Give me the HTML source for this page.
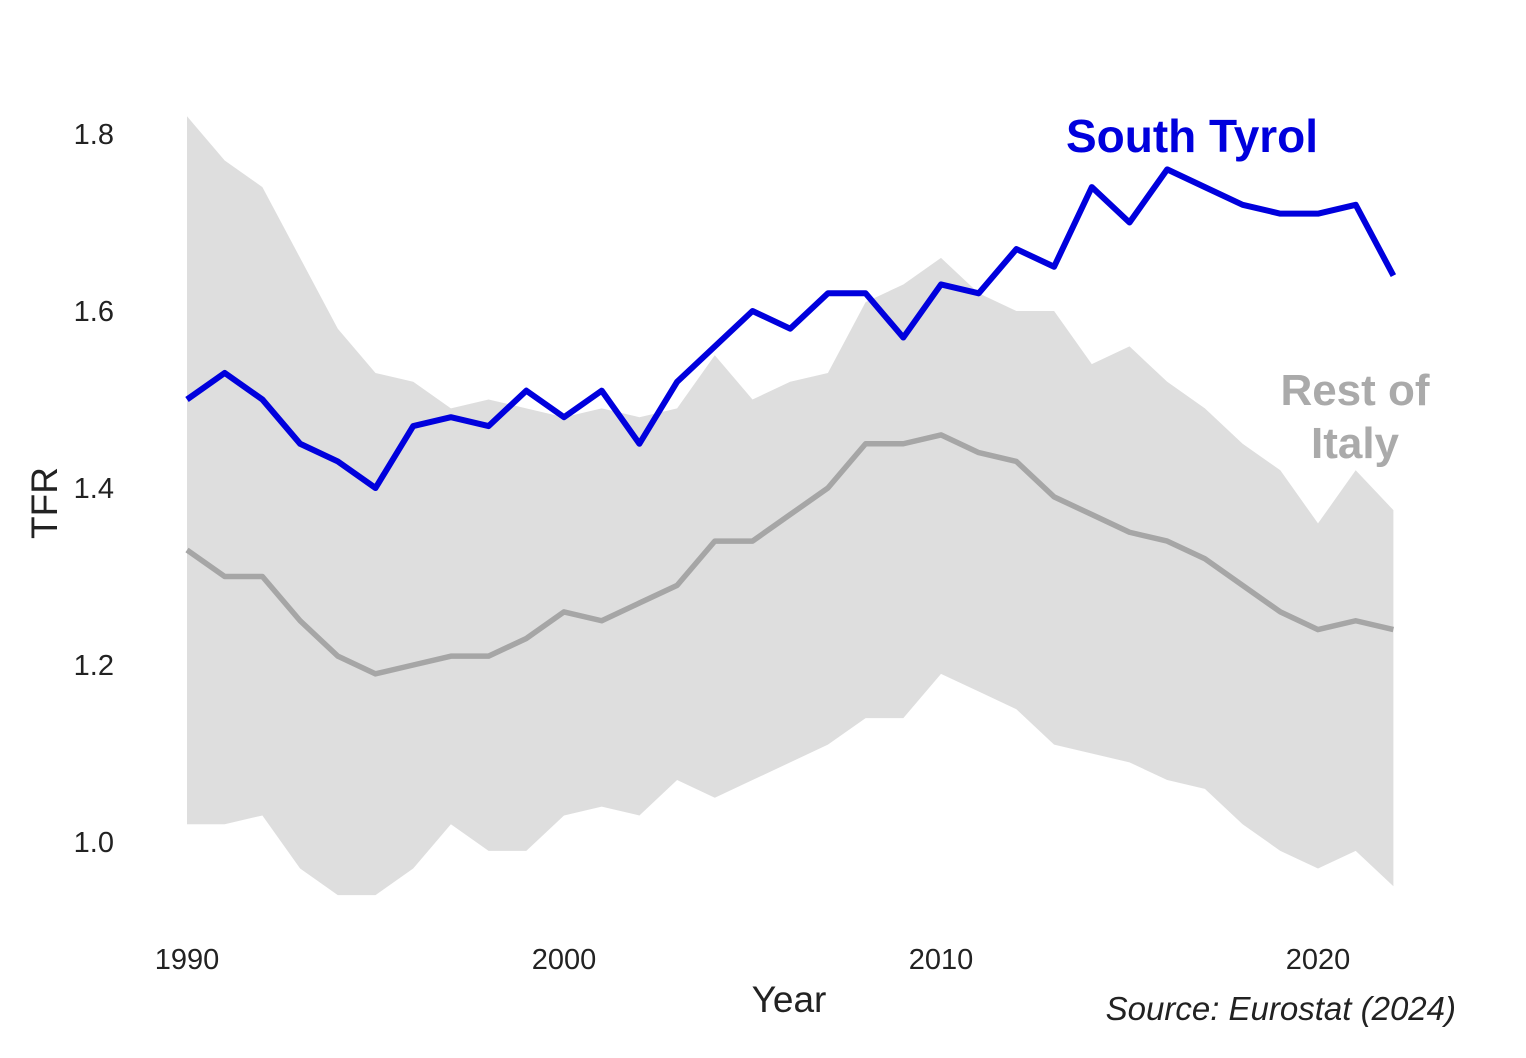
<!DOCTYPE html>
<html><head><meta charset="utf-8"><style>
html,body{margin:0;padding:0;background:#fff;}
svg{display:block;font-family:"Liberation Sans",Arial,sans-serif;}
</style></head><body>
<svg id="chart" width="1526" height="1058" viewBox="0 0 1526 1058">
<g id="band"></g>
<g id="lines"></g>
<g id="yticks"></g>
<g id="xticks"></g>
<text transform="translate(57,503) rotate(-90)" text-anchor="middle" font-size="37" fill="#222">TFR</text>
<text x="789" y="1012" text-anchor="middle" font-size="37" fill="#222">Year</text>
<text x="1456" y="1020" text-anchor="end" font-size="33" font-style="italic" fill="#222">Source: Eurostat (2024)</text>
<text x="1192" y="152" text-anchor="middle" font-size="46" font-weight="bold" fill="#0000dd">South Tyrol</text>
<text x="1355" y="405" text-anchor="middle" font-size="44" font-weight="bold" fill="#aaaaaa">Rest of</text>
<text x="1355" y="458" text-anchor="middle" font-size="44" font-weight="bold" fill="#aaaaaa">Italy</text>
</svg>
<script>
const years = [];
for (let y = 1990; y <= 2022; y++) years.push(y);
const southTyrol = [1.50,1.53,1.50,1.45,1.43,1.40,1.47,1.48,1.47,1.51,1.48,1.51,1.45,1.52,1.56,1.60,1.58,1.62,1.62,1.57,1.63,1.62,1.67,1.65,1.74,1.70,1.76,1.74,1.72,1.71,1.71,1.72,1.64];
const italyMean = [1.33,1.30,1.30,1.25,1.21,1.19,1.20,1.21,1.21,1.23,1.26,1.25,1.27,1.29,1.34,1.34,1.37,1.40,1.45,1.45,1.46,1.44,1.43,1.39,1.37,1.35,1.34,1.32,1.29,1.26,1.24,1.25,1.24];
const italyUpper = [1.82,1.77,1.74,1.66,1.58,1.53,1.52,1.49,1.50,1.49,1.48,1.49,1.48,1.49,1.55,1.50,1.52,1.53,1.61,1.63,1.66,1.62,1.60,1.60,1.54,1.56,1.52,1.49,1.45,1.42,1.36,1.42,1.375];
const italyLower = [1.02,1.02,1.03,0.97,0.94,0.94,0.97,1.02,0.99,0.99,1.03,1.04,1.03,1.07,1.05,1.07,1.09,1.11,1.14,1.14,1.19,1.17,1.15,1.11,1.10,1.09,1.07,1.06,1.02,0.99,0.97,0.99,0.95];
const yTicks = [1.0,1.2,1.4,1.6,1.8];
const xTicks = [1990,2000,2010,2020];

const NS = "http://www.w3.org/2000/svg";
const xS = y => 187 + (y - 1990) * 37.7;
const yS = v => 842 - (v - 1.0) * 885;
function mk(tag, attrs, parent){const e=document.createElementNS(NS,tag);for(const k in attrs)e.setAttribute(k,attrs[k]);parent.appendChild(e);return e;}

let pts = years.map((y,i)=>xS(y)+","+yS(italyUpper[i]));
for (let i = years.length-1; i >= 0; i--) pts.push(xS(years[i])+","+yS(italyLower[i]));
const band = mk("polygon",{points:pts.join(" "),fill:"#dedede"},document.getElementById("band"));



const lines = document.getElementById("lines");
const lm = mk("polyline",{points:years.map((y,i)=>xS(y)+","+yS(italyMean[i])).join(" "),fill:"none",stroke:"#a6a6a6","stroke-width":5.5,"stroke-linejoin":"round"},lines);


const ls = mk("polyline",{points:years.map((y,i)=>xS(y)+","+yS(southTyrol[i])).join(" "),fill:"none",stroke:"#0000dd","stroke-width":6,"stroke-linejoin":"round"},lines);



const yg = document.getElementById("yticks");
yTicks.forEach(v=>{const t=mk("text",{x:114,y:yS(v)+10,"text-anchor":"end","font-size":29,fill:"#222"},yg);t.textContent=v.toFixed(1);

});
const xg = document.getElementById("xticks");
xTicks.forEach(v=>{const t=mk("text",{x:xS(v),y:969,"text-anchor":"middle","font-size":29,fill:"#222"},xg);t.textContent=v;

});
</script>
</body></html>
